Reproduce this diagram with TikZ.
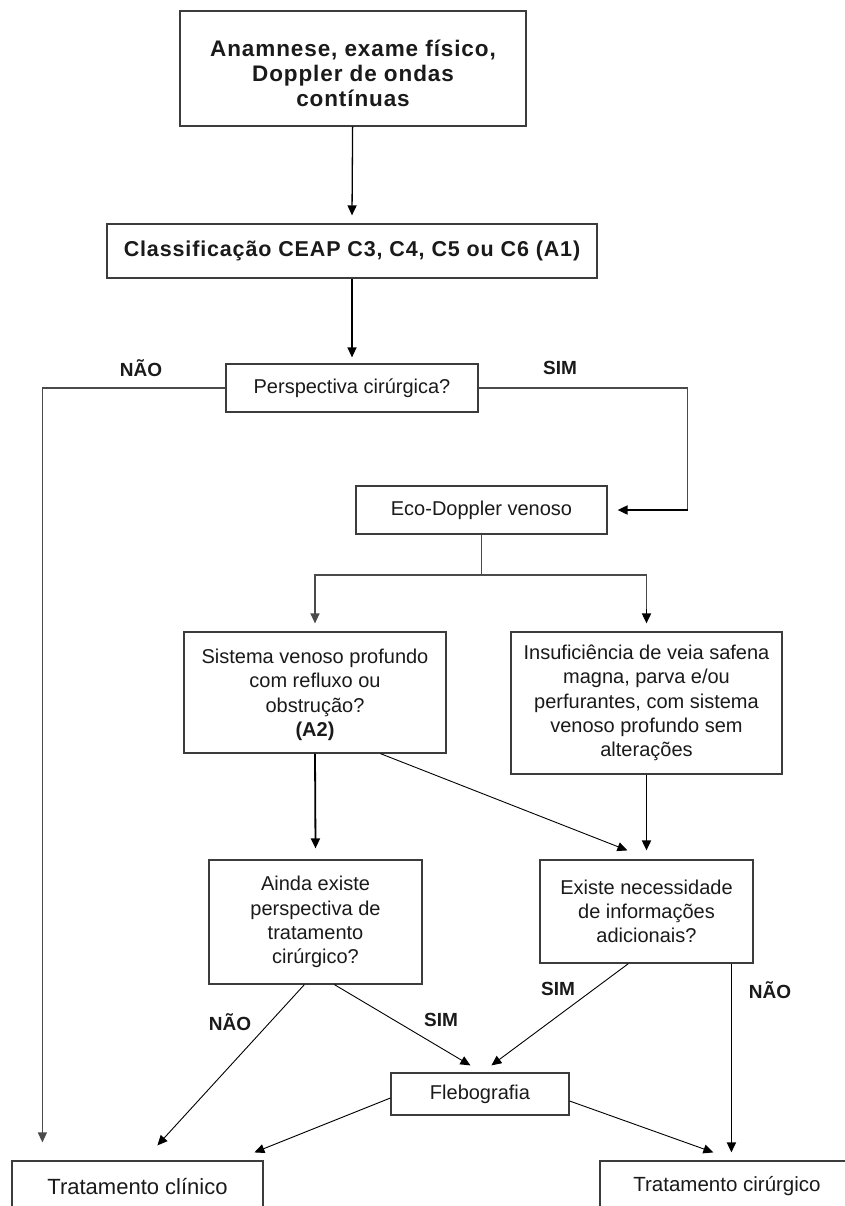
\documentclass[tikz,border=0pt]{standalone}
\usepackage{fontspec}
\setmainfont{Liberation Sans}
\newfontfamily\boldwide[LetterSpace=4]{Liberation Sans}
\usetikzlibrary{arrows.meta}
\definecolor{boxgray}{HTML}{3C3C3C}
\definecolor{linegray}{HTML}{4A4A4A}
\definecolor{txt}{HTML}{1A1A1A}
\begin{document}
\begin{tikzpicture}[x=1pt,y=-1pt,
  box/.style={draw=boxgray, line width=1.2pt, rectangle, align=center, inner sep=0pt,
    font=\fontsize{20}{24.3}\selectfont, text=txt},
  bigbox/.style={box, font=\boldwide\bfseries\fontsize{21.5}{25}\selectfont},
  lab/.style={font=\bfseries\fontsize{19}{22}\selectfont, text=txt, inner sep=0pt},
  arr/.style={-{Triangle[length=10pt,width=9pt]}},
  thin/.style={line width=0.9pt, draw=black},
  mid/.style={line width=1.3pt, draw=linegray},
  thick/.style={line width=1.8pt, draw=black}
]
\useasboundingbox[fill=white] (0,0) rectangle (845,1206);

% nodes
\node[bigbox, font=\boldwide\bfseries\fontsize{22.5}{25}\selectfont,
  minimum width=346pt, minimum height=115pt] (b1) at (353,68.5)
  {\rule{0pt}{26pt}Anamnese, exame físico,\\Doppler de ondas\\contínuas};
\node[bigbox, minimum width=490pt, minimum height=54pt] (b2) at (352,251)
  {Classificação CEAP C3, C4, C5 ou C6 (A1)};
\node[box, minimum width=252pt, minimum height=48pt] (b3) at (352,388)
  {Perspectiva cirúrgica?};
\node[box, minimum width=251pt, minimum height=48pt] (b4) at (481.5,510)
  {Eco-Doppler venoso};
\node[box, minimum width=262pt, minimum height=121pt] (b5) at (315,692.5)
  {\rule{0pt}{19pt}Sistema venoso profundo\\com refluxo ou\\obstrução?\\\textbf{(A2)}};
\node[box, minimum width=271pt, minimum height=142pt] (b6) at (646.5,703)
  {Insuficiência de veia safena\\magna, parva e/ou\\perfurantes, com sistema\\venoso profundo sem\\alterações};
\node[box, minimum width=213pt, minimum height=124pt] (b7) at (315.5,922)
  {Ainda existe\\perspectiva de\\tratamento\\cirúrgico?};
\node[box, minimum width=213pt, minimum height=103pt] (b8) at (646.5,911.5)
  {Existe necessidade\\de informações\\adicionais?};
\node[box, minimum width=178pt, minimum height=42pt] (b9) at (480,1094)
  {Flebografia};
\node[box, font=\fontsize{22}{25}\selectfont, minimum width=251pt, minimum height=50pt] (b10) at (137.5,1186)
  {Tratamento clínico};
\node[box, font=\fontsize{20.5}{25}\selectfont, minimum width=254pt, minimum height=50pt] (b11) at (727,1186)
  {Tratamento cirúrgico};

\coordinate (split) at (481.5,575);

% connectors
\draw[thick, line width=1.3pt, arr] (b1) -- ([yshift=8pt]b2.north);
\draw[thick, line width=1.3pt, arr] (b2) -- ([yshift=6pt]b3.north);
\draw[mid, arr] (b3.west) -| ([xshift=31pt,yshift=18pt]b10.north west);
\draw[mid] (b3.east) -| ([xshift=80pt]b4.east);
\draw[thick, arr] ([xshift=80pt]b4.east) -- ([xshift=10pt]b4.east);
\draw[mid] (b4.south) -- (split);
\draw[mid, arr] (split) -| ([yshift=8pt]b5.north);
\draw[mid] (split) -| ([yshift=22pt]b6.north);
\draw[thick, arr] ([yshift=22pt]b6.north) -- ([yshift=8pt]b6.north);
\draw[thick, arr] (b5.south) -- ([yshift=11pt]b7.north);
\draw[thin, arr] ([xshift=197pt]b5.south west) -- ([xshift=88pt,yshift=9pt]b8.north west);
\draw[thick, arr] (b6.south) -- ([yshift=9pt]b8.north);
\draw[thin, arr] ([xshift=96pt]b7.south west) -- ([xshift=146pt,yshift=15pt]b10.north west);
\draw[thin, arr] ([xshift=126pt]b7.south west) -- ([xshift=80pt,yshift=7pt]b9.north west);
\draw[thin, arr] ([xshift=89pt]b8.south west) -- ([xshift=101pt,yshift=7pt]b9.north west);
\draw[thick, arr] ([xshift=192pt]b8.south west) -- ([xshift=132pt,yshift=8pt]b11.north west);
\draw[thin, arr] ([yshift=-4pt]b9.west) -- ([xshift=243pt,yshift=8pt]b10.north west);
\draw[thin, arr] ([yshift=-7pt]b9.east) -- ([xshift=114pt,yshift=8pt]b11.north west);

% labels
\node[lab] (l1) at (141,368) {NÃO};
\node[lab] (l2) at (560,368) {SIM};
\node[lab] (l3) at (230,1022) {NÃO};
\node[lab] (l4) at (441,1020) {SIM};
\node[lab] (l5) at (558,989) {SIM};
\node[lab] (l6) at (770,990) {NÃO};
\end{tikzpicture}
\end{document}
